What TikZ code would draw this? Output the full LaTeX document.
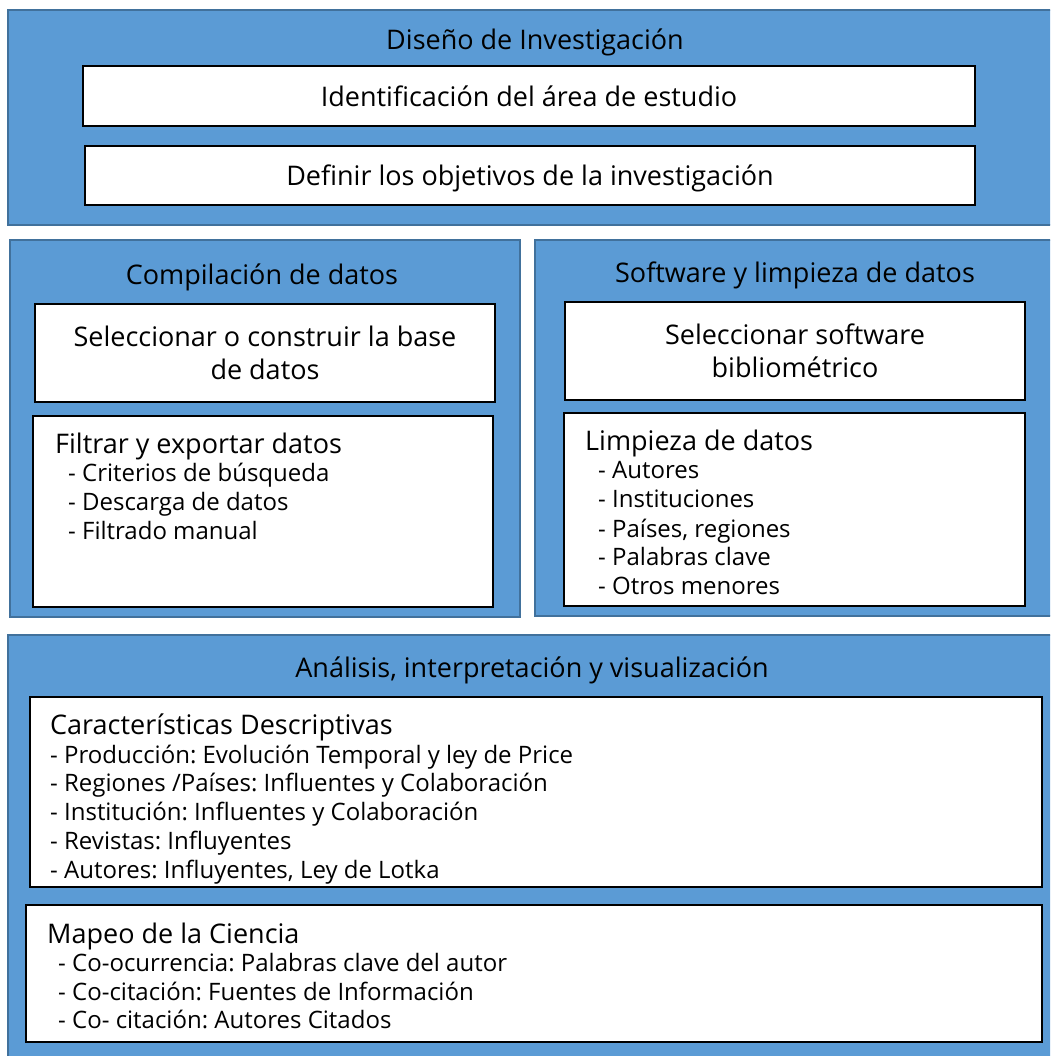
\documentclass[tikz,border=0pt]{standalone}
\usepackage{fontspec}
\setmainfont{Open Sans}
\frenchspacing
\definecolor{panelblue}{HTML}{5B9BD5}
\definecolor{paneledge}{HTML}{41719C}
\begin{document}
\begin{tikzpicture}[x=1pt,y=-1pt,
  panel/.style={draw=paneledge,line width=1.5pt,fill=panelblue},
  card/.style={draw=black,line width=1.8pt,fill=white},
  title/.style={inner sep=0pt,text height=24pt,text depth=4pt,font=\fontsize{27}{30}\selectfont},
  big/.style={inner sep=0pt,font=\fontsize{27}{33}\selectfont,align=center},
  head/.style={title,anchor=west},
  item/.style={inner sep=0pt,text height=20pt,text depth=4pt,font=\fontsize{24}{27}\selectfont,anchor=west}]
\useasboundingbox (0,0) rectangle (1050,1056);
\begin{scope}
\clip (0,0) rectangle (1050,1056);
% panels
\draw[panel] (8,10) rectangle (1060,225);
\draw[panel] (10,240) rectangle (520,617);
\draw[panel] (535,240) rectangle (1060,616);
\draw[panel] (8,635) rectangle (1060,1070);
\end{scope}
% design stage
\node[title] (t1) at (535,40) {Diseño de Investigación};
\draw[card] (83,66) rectangle (975,126);
\node[title] (a1) at (529,97) {Identificación del área de estudio};
\draw[card] (85,146) rectangle (975,205);
\node[title] (a2) at (530,176) {Definir los objetivos de la investigación};
% data compilation
\node[title] (t2) at (262,274) {Compilación de datos};
\draw[card] (35,304) rectangle (495,402);
\node[big] (b1) at (265,353) {Seleccionar o construir la base\\de datos};
\draw[card] (33,416) rectangle (493,607);
\node[head] (b2) at (55,443) {Filtrar y exportar datos};
\node[item] (b3) at (68,473) {- Criterios de búsqueda};
\node[item] (b4) at (68,502) {- Descarga de datos};
\node[item] (b5) at (68,531) {- Filtrado manual};
% software and cleaning
\node[title] (t3) at (795,273) {Software y limpieza de datos};
\draw[card] (565,302) rectangle (1025,400);
\node[big] (c1) at (795,351) {Seleccionar software\\bibliométrico};
\draw[card] (564,413) rectangle (1025,606);
\node[head] (c2) at (585,440) {Limpieza de datos};
\node[item] (c3) at (598,470) {- Autores};
\node[item] (c4) at (598,499) {- Instituciones};
\node[item] (c5) at (598,529) {- Países, regiones};
\node[item] (c6) at (598,557) {- Palabras clave};
\node[item] (c7) at (598,586) {- Otros menores};
% analysis
\node[title] (t4) at (532,667) {Análisis, interpretación y visualización};
\draw[card] (30,697) rectangle (1042,887);
\node[head] (d1) at (50,724) {Características Descriptivas};
\node[item] (d2) at (50,755) {- Producción: Evolución Temporal y ley de Price};
\node[item] (d3) at (50,783) {- Regiones /Países: Influentes y Colaboración};
\node[item] (d4) at (50,812) {- Institución: Influentes y Colaboración};
\node[item] (d5) at (50,841) {- Revistas: Influyentes};
\node[item] (d6) at (50,870) {- Autores: Influyentes, Ley de Lotka};
\draw[card] (26,905) rectangle (1042,1042);
\node[head] (e1) at (47,933) {Mapeo de la Ciencia};
\node[item] (e2) at (58,963) {- Co-ocurrencia: Palabras clave del autor};
\node[item] (e3) at (58,992) {- Co-citación: Fuentes de Información};
\node[item] (e4) at (58,1020) {- Co- citación: Autores Citados};
\end{tikzpicture}
\end{document}
